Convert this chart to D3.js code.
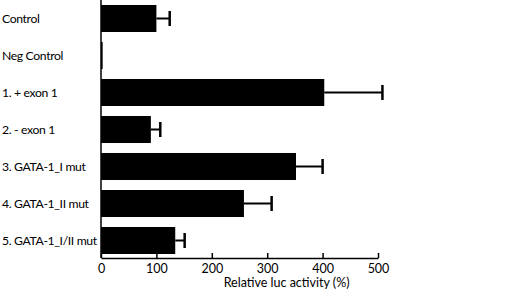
<html>
<head>
<script src="https://cdn.jsdelivr.net/npm/d3@7"></script>
<style>
body { margin: 0; background: #fff; }
svg { font-family: Lato, 'Open Sans', sans-serif; }
.lab { letter-spacing: -0.35px; }
</style>
</head>
<body>
<div id="chart"></div>
<script>
// data
var labels = ["Control", "Neg Control", "1. + exon 1", "2. - exon 1", "3. GATA-1_I mut", "4. GATA-1_II mut", "5. GATA-1_I/II mut"];
var values = [100, 3, 403, 90, 352, 258, 134];
var errors = [24, 0, 105, 17, 48, 50, 17];
var xTicks = [0, 100, 200, 300, 400, 500];

var width = 520, height = 303;
var left = 101, axisY = 258;

var svg = d3.select("#chart").append("svg").attr("width", width).attr("height", height);

var x = d3.scaleLinear().domain([0, 500]).range([left, 378]);
var y = d3.scaleBand().domain(labels).range([0, 259]).paddingInner(0.27).paddingOuter(0.135);

var rows = labels.map((l, i) => ({label: l, value: values[i], err: errors[i]}));

// bars
svg.selectAll(".bar").data(rows).enter().append("rect")
  .attr("class", "bar")
  .attr("x", x(0))
  .attr("y", d => y(d.label))
  .attr("width", d => x(d.value) - x(0))
  .attr("height", y.bandwidth())
  .attr("fill", "#000");

// error bars
var eb = svg.selectAll(".err").data(rows.filter(d => d.err > 0)).enter().append("g").attr("class", "err");
eb.append("line")
  .attr("x1", d => x(d.value)).attr("x2", d => x(d.value + d.err))
  .attr("y1", d => y(d.label) + y.bandwidth() / 2).attr("y2", d => y(d.label) + y.bandwidth() / 2)
  .attr("stroke", "#000").attr("stroke-width", 2);
eb.append("line")
  .attr("x1", d => x(d.value + d.err)).attr("x2", d => x(d.value + d.err))
  .attr("y1", d => y(d.label) + y.bandwidth() / 2 - 7.5).attr("y2", d => y(d.label) + y.bandwidth() / 2 + 7.5)
  .attr("stroke", "#000").attr("stroke-width", 2.5);

// category labels
svg.selectAll(".lab").data(rows).enter().append("text")
  .attr("class", "lab")
  .attr("x", 2)
  .attr("y", d => y(d.label) + y.bandwidth() / 2)
  .attr("dy", "0.35em")
  .style("font-size", "12.2px")
  .text(d => d.label);

// y axis line
svg.append("line").attr("x1", left).attr("x2", left).attr("y1", 0).attr("y2", axisY)
  .attr("stroke", "#000").attr("stroke-width", 1.5);

// x axis
var xAxis = d3.axisBottom(x).tickValues(xTicks).tickSizeInner(-5).tickSizeOuter(0).tickPadding(6);
var gx = svg.append("g").attr("transform", "translate(0," + axisY + ")").call(xAxis);
gx.select(".domain").attr("stroke-width", 1.5);
gx.selectAll(".tick line").attr("stroke-width", 1.5);
gx.selectAll(".tick text").style("font-size", "12.5px");
gx.attr("font-family", null).attr("font-size", null);

svg.append("text")
  .attr("x", x(335)).attr("y", 287)
  .attr("text-anchor", "middle")
  .style("font-size", "12.5px")
  .text("Relative luc activity (%)");
</script>
</body>
</html>
